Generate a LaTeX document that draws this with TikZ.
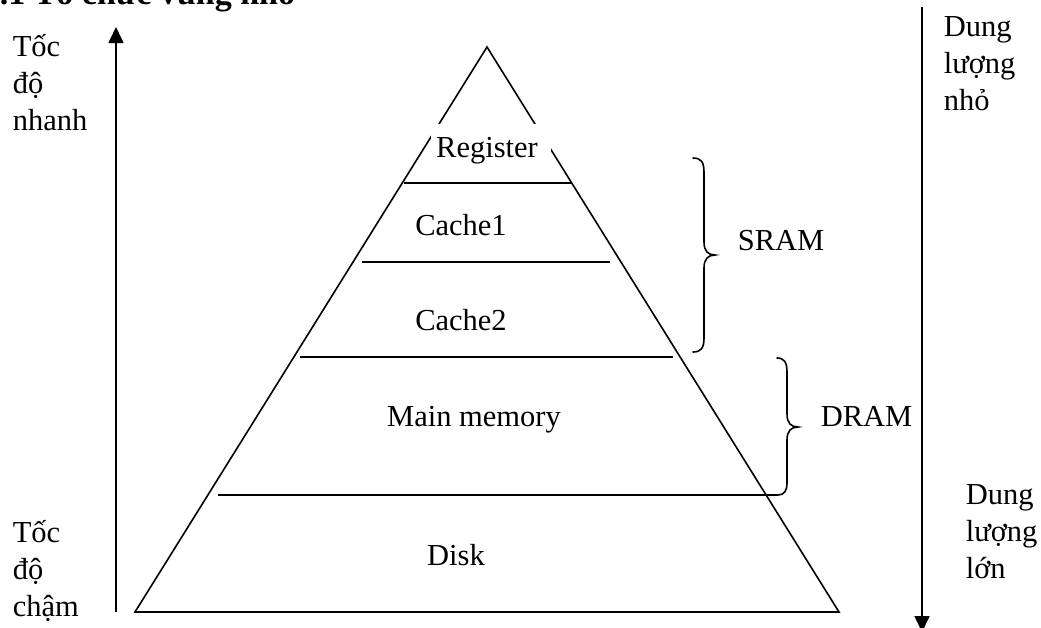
\documentclass[tikz,border=0pt]{standalone}
\usepackage{fontspec}
\setmainfont{Liberation Serif}
\usetikzlibrary{arrows.meta}
\begin{document}
\begin{tikzpicture}[x=1pt, y=-1pt, line width=1.6pt,
  side/.style={font=\fontsize{30.5}{37}\selectfont, inner sep=0pt, anchor=base west, align=left},
  tier/.style={font=\fontsize{30.5}{37}\selectfont, inner sep=0pt, anchor=base},
  divider/.style={line width=1.6pt},
  brace/.style={line width=1.6pt, line cap=round},
  axis/.style={line width=1.6pt, -{Triangle[length=16pt, width=15pt]}}]
\useasboundingbox (0,0) rectangle (1041,627);

% section heading, mostly above the page
\node[anchor=base west, inner sep=0pt, font=\bfseries\fontsize{34}{40}\selectfont] (title) at (-1,4) {.1 Tổ chức vùng nhớ};

% pyramid outline
\coordinate (apex) at (487,47);
\coordinate (bl) at (135,612);
\coordinate (br) at (839,612);
\draw[line join=miter] (bl) -- (apex) -- (br) -- cycle;

% white label box for the top tier
\fill[white] (431,124) rectangle (551,162);
\node[tier] (register) at (487,157) {Register};

% tier dividers
\draw[divider] (404,183) -- (571,183);
\draw[divider] (362,262) -- (610,262);
\draw[divider] (300,357) -- (673,357);
\draw[divider] (218,495) -- (778,495);

% tier labels
\node[tier] (cache1) at (461,235) {Cache1};
\node[tier] (cache2) at (461,330) {Cache2};
\node[tier] (mainmem) at (474,426) {Main memory};
\node[tier] (disk) at (456,565) {Disk};

% SRAM brace
\draw[brace] (693,158) .. controls (701,158) and (704,162) .. (704,172)
  -- (704,242) .. controls (704,251) and (708,255) .. (715,255)
  .. controls (708,255) and (704,259) .. (704,268)
  -- (704,338) .. controls (704,348) and (701,352) .. (693,352);
\node[side] (sram) at (737,250) {SRAM};

% DRAM brace, closing onto the bottom divider
\draw[brace] (777,358) .. controls (784,358) and (787,362) .. (787,372)
  -- (787,414) .. controls (787,423) and (791,427) .. (798,427)
  .. controls (791,427) and (787,431) .. (787,440)
  -- (787,483) .. controls (787,491) and (784,495) .. (778,495);
\node[side] (dram) at (820,426) {DRAM};

% speed axis
\coordinate (slowL) at (116,612);
\coordinate (fastL) at (116,27);
\draw[axis] (slowL) -- (fastL);
\node[side] (fast) at (12,130) {Tốc\\độ\\nhanh};
\node[side] (slow) at (12,616) {Tốc\\độ\\chậm};

% capacity axis
\coordinate (smallR) at (922,7);
\coordinate (largeR) at (922,632);
\draw[axis] (smallR) -- (largeR);
\node[side] (small) at (943,110) {Dung\\lượng\\nhỏ};
\node[side] (large) at (965,578) {Dung\\lượng\\lớn};
\end{tikzpicture}
\end{document}
